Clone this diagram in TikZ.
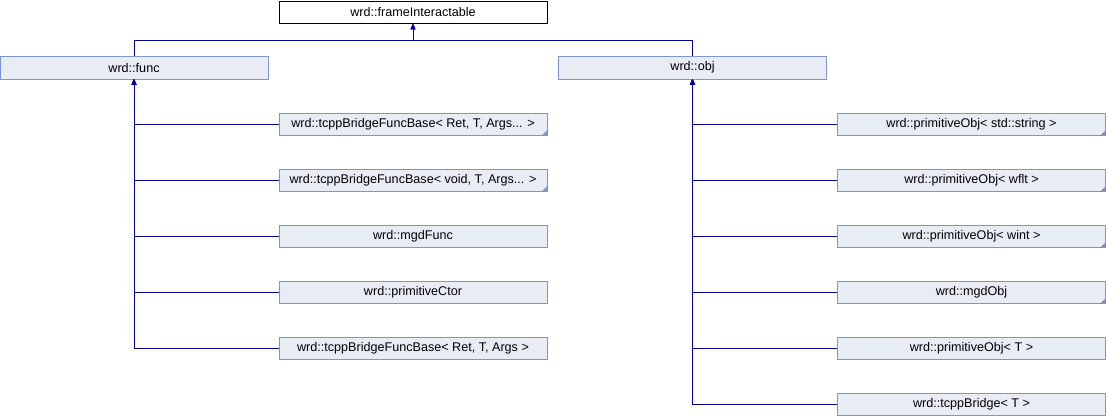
\documentclass[tikz,border=0pt]{standalone}
\usepackage{fontspec}
\setmainfont{Liberation Sans}
\usetikzlibrary{positioning,arrows.meta}
\newdimen\rowDist
\definecolor{clsFill}{RGB}{232,236,245}
\definecolor{clsLine}{RGB}{124,149,206}
\definecolor{edgeBlue}{RGB}{0,0,150}

\begin{document}
\begin{tikzpicture}[
    x=1pt, y=-1pt,
    cls/.style={%
      draw=clsLine,
      fill=clsFill,
      rectangle,
      minimum width=268pt,
      minimum height=22.5pt,
      inner sep=0pt,
      font=\fontsize{12.6}{15}\selectfont,
    },
    root/.style={%
      cls,
      draw=black,
      fill=white,
    },
    cut/.style={%
      cls,
      path picture={\fill[clsLine] (path picture bounding box.south east)
        -- ++(-5pt,0pt) -- ++(5pt,5pt) -- cycle;},
    },
    edge/.style={%
      draw=edgeBlue,
      line width=1pt,
      -{Triangle[length=6pt,width=5pt]},
    },
  ]
    \rowDist=56pt
    \useasboundingbox (0,0) rectangle (1106,416);

    \node [root] (frame) at (413,12) {wrd::frameInteractable};
    \node [cls] (func) at (134,67.5) {wrd::func};
    \node [cls] (obj) at (692.5,67.5) {wrd::obj};
    \coordinate (join) at (413,40);

    \path (func) ++(279,56.5) node [cut] (fA) {wrd::tcppBridgeFuncBase< Ret, T, Args... >};
    \path (fA) ++(0pt,-\rowDist) node [cut] (fB) {wrd::tcppBridgeFuncBase< void, T, Args... >};
    \path (fB) ++(0pt,-\rowDist) node [cls] (fC) {wrd::mgdFunc};
    \path (fC) ++(0pt,-\rowDist) node [cls] (fD) {wrd::primitiveCtor};
    \path (fD) ++(0pt,-\rowDist) node [cls] (fE) {wrd::tcppBridgeFuncBase< Ret, T, Args >};

    \path (obj) ++(279,56.5) node [cut] (oA) {wrd::primitiveObj< std::string >};
    \path (oA) ++(0pt,-\rowDist) node [cut] (oB) {wrd::primitiveObj< wflt >};
    \path (oB) ++(0pt,-\rowDist) node [cut] (oC) {wrd::primitiveObj< wint >};
    \path (oC) ++(0pt,-\rowDist) node [cut] (oD) {wrd::mgdObj};
    \path (oD) ++(0pt,-\rowDist) node [cls] (oE) {wrd::primitiveObj< T >};
    \path (oE) ++(0pt,-\rowDist) node [cls] (oF) {wrd::tcppBridge< T >};

    \draw [edge] (func) |- (join) -- (frame);
    \draw [edge] (obj) |- (join) -- (frame);

    \draw [edge] (fA) -| (func);
    \draw [edge] (fB) -| (func);
    \draw [edge] (fC) -| (func);
    \draw [edge] (fD) -| (func);
    \draw [edge] (fE) -| (func);

    \draw [edge] (oA) -| (obj);
    \draw [edge] (oB) -| (obj);
    \draw [edge] (oC) -| (obj);
    \draw [edge] (oD) -| (obj);
    \draw [edge] (oE) -| (obj);
    \draw [edge] (oF) -| (obj);

\end{tikzpicture}
\end{document}
